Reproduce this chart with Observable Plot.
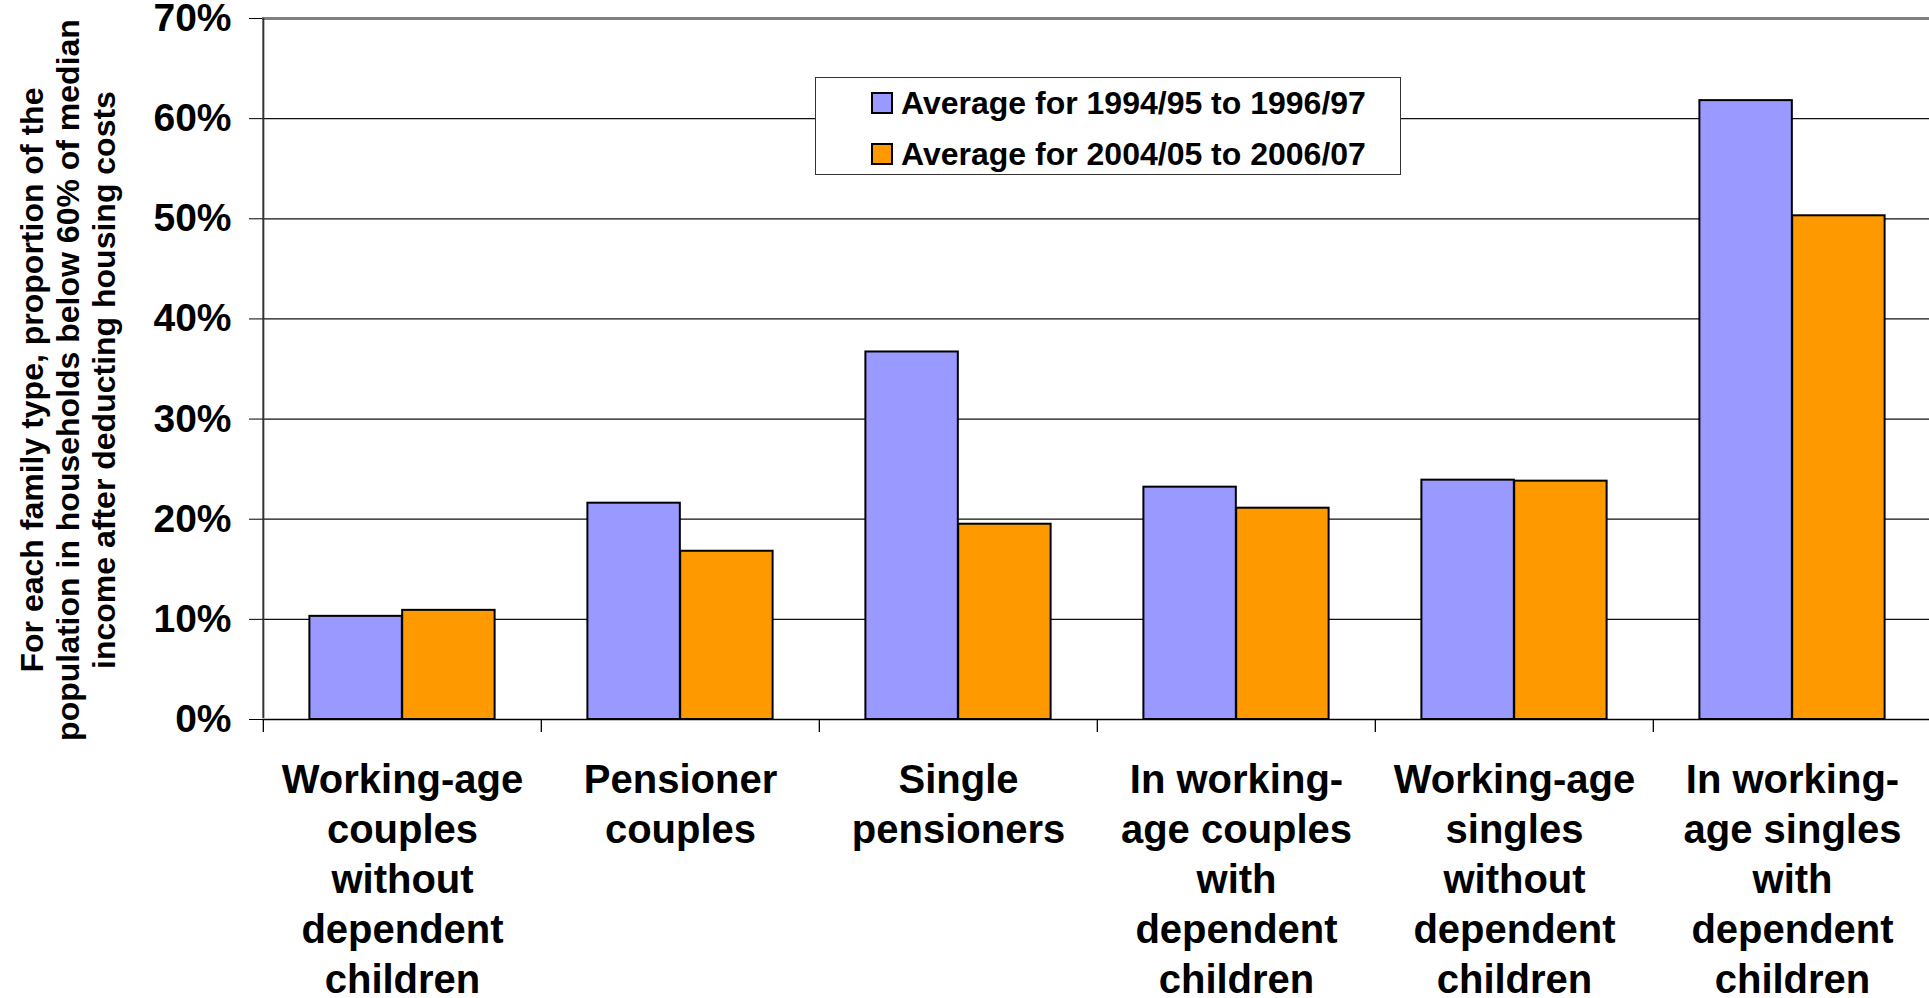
<!DOCTYPE html>
<html>
<head>
<meta charset="utf-8">
<script src="https://cdn.jsdelivr.net/npm/d3@7"></script>
<script src="https://cdn.jsdelivr.net/npm/@observablehq/plot@0.6"></script>
<style>
  html, body { margin: 0; padding: 0; background: #fff; overflow: hidden; }
  #wrap { position: relative; width: 1929px; height: 998px; overflow: hidden; font-family: "Liberation Sans", Arial, sans-serif; font-weight: bold; color: #000; }
  #chart svg { max-width: none !important; display: block; }
  #legend { position: absolute; left: 815px; top: 77px; width: 586px; height: 98px; background: #fff; border: 1.5px solid #333; box-sizing: border-box; }
  .row { position: absolute; left: 55px; display: flex; align-items: center; font-size: 32px; white-space: nowrap; }
  .sw { width: 22px; height: 22px; border: 2px solid #000; box-sizing: border-box; margin-right: 8px; }
  #ytitle { position: absolute; left: 68px; top: 380px; transform: translate(-50%, -50%) rotate(-90deg); font-size: 32px; line-height: 36px; text-align: center; white-space: nowrap; }
</style>
</head>
<body>
<div id="wrap">
  <div id="chart"></div>
  <div id="legend"></div>
  <div id="ytitle">For each family type, proportion of the<br>population in households below 60% of median<br>income after deducting housing costs</div>
</div>
<script>
// ---- data ----
const categories = [
  "Working-age\ncouples\nwithout\ndependent\nchildren",
  "Pensioner\ncouples",
  "Single\npensioners",
  "In working-\nage couples\nwith\ndependent\nchildren",
  "Working-age\nsingles\nwithout\ndependent\nchildren",
  "In working-\nage singles\nwith\ndependent\nchildren"
];
const seriesNames = ["Average for 1994/95 to 1996/97", "Average for 2004/05 to 2006/07"];
const values1994 = [10.3, 21.6, 36.7, 23.2, 23.9, 61.8];
const values2004 = [10.9, 16.8, 19.5, 21.1, 23.8, 50.3];
const yTicks = [0, 10, 20, 30, 40, 50, 60, 70];
const colors = ["#9999FF", "#FF9900"];

// ---- layout ----
const W = 1940, H = 998;
const mL = 262, mR = 8, mT = 18, mB = H - 719;
const bw = (W - mL - mR) / categories.length;

const d1 = categories.map((c, i) => ({category: c, value: values1994[i], series: seriesNames[0]}));
const d2 = categories.map((c, i) => ({category: c, value: values2004[i], series: seriesNames[1]}));

const plot = Plot.plot({
  width: W,
  height: H,
  marginLeft: mL,
  marginRight: mR,
  marginTop: mT,
  marginBottom: mB,
  style: {fontFamily: "'Liberation Sans', Arial, sans-serif", fontWeight: "bold", color: "#000", background: "#fff"},
  x: {type: "band", domain: categories, padding: 0},
  y: {domain: [0, 70]},
  color: {domain: seriesNames, range: colors},
  marks: [
    Plot.ruleY(yTicks.filter(t => t > 0 && t < 70), {stroke: "#111", strokeWidth: 1.2}),
    Plot.ruleY([70], {stroke: "#808080", strokeWidth: 3}),
    Plot.barY(d1, {x: "category", y: "value", fill: "series", stroke: "#000", strokeWidth: 2,
      insetLeft: bw / 6, insetRight: bw / 2}),
    Plot.barY(d2, {x: "category", y: "value", fill: "series", stroke: "#000", strokeWidth: 2,
      insetLeft: bw / 2, insetRight: bw / 6}),
    Plot.ruleY([0], {stroke: "#000", strokeWidth: 1.5}),
    Plot.ruleX(categories, {x: d => d, y1: 0, y2: 0, dx: -bw / 2, insetBottom: -13, stroke: "#000", strokeWidth: 1.3}),
    Plot.ruleX([categories[0]], {x: d => d, y1: 0, y2: 70, dx: -bw / 2, insetTop: -1, stroke: "#333", strokeWidth: 2}),
    Plot.axisY({ticks: yTicks, tickFormat: d => d + "%", tickSize: 13, tickPadding: 18,
      fontSize: 39, fontWeight: "bold", label: null, stroke: "#000"}),
    Plot.axisX({tickSize: 0, tickPadding: 38, fontSize: 40, fontWeight: "bold", lineHeight: 1.25, label: null})
  ]
});
plot.style.maxWidth = "none";
document.getElementById("chart").appendChild(plot);

// legend
const legend = document.getElementById("legend");
seriesNames.forEach((name, i) => {
  const row = document.createElement("div");
  row.className = "row";
  row.style.top = (i === 0 ? 7 : 58) + "px";
  row.style.height = "36px";
  const sw = document.createElement("div");
  sw.className = "sw";
  sw.style.background = colors[i];
  const t = document.createElement("span");
  t.textContent = name;
  row.appendChild(sw);
  row.appendChild(t);
  legend.appendChild(row);
});
</script>
</body>
</html>
